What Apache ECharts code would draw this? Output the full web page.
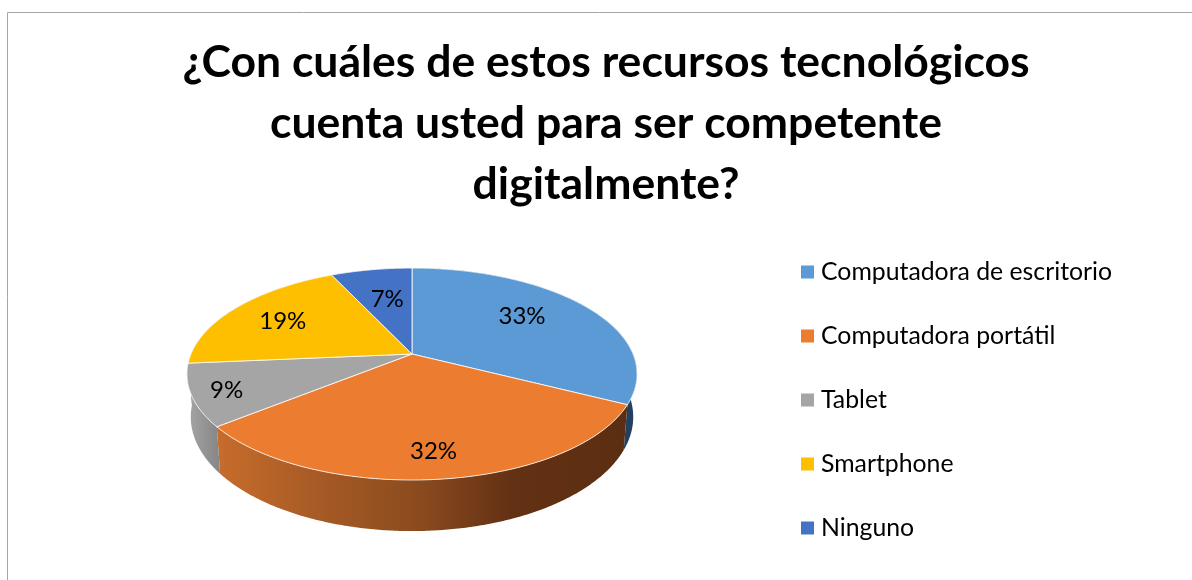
<!DOCTYPE html>
<html><head><meta charset="utf-8">
<style>html,body{margin:0;padding:0;background:#fff}#c{width:1192px;height:580px}</style>
<script src="https://cdn.jsdelivr.net/npm/echarts@6/dist/echarts.min.js"></script>
</head><body><div id="c"></div>
<script>
const titleText = '¿Con cuáles de estos recursos tecnológicos\ncuenta usted para ser competente\ndigitalmente?';
const categories = ['Computadora de escritorio','Computadora portátil','Tablet','Smartphone','Ninguno'];
const shares = [32.5,31.7,9.4,19.4,7.0];
const colors = ['#5B9AD5','#EB7C30','#A5A5A5','#FDBF00','#4472C4'];
const labelReach = [0.68,0.8,0.85,0.72,0.63];
const labelTurn = [-0.11,0,0,0,0.02];

const CX=412, CY=354, R=221, B=102.2, P=0.189, DEPTH=41.4, SHRINK=0.983;
const total = shares.reduce((a,b)=>a+b,0);
function project(theta, r){
  const u=Math.sin(theta)*r, v=-Math.cos(theta)*r, s=1/(1-P*v);
  return [CX+R*u*s, CY+B*v*s, s];
}
function arc(a0,a1){
  const n=Math.max(8,Math.ceil((a1-a0)/0.01)), pts=[];
  for(let k=0;k<=n;k++){ pts.push(project(a0+(a1-a0)*k/n,1)); }
  return pts;
}
function sideFill(i){
  const G=echarts.graphic.LinearGradient;
  if(i===1) return new G(219,0,625,0,[{offset:0,color:'#C66C2C'},{offset:0.25,color:'#A65A25'},{offset:0.5,color:'#8A4A1E'},{offset:0.72,color:'#633114'},{offset:1,color:'#5C2E11'}],true);
  if(i===2) return new G(187,0,223,0,[{offset:0,color:'#A6A6A6'},{offset:1,color:'#828282'}],true);
  if(i===0) return '#234060';
  return '#A6A6A6';
}
function renderSlice(i){
  return function(params,api){
    const val=api.value(0);
    let before=0; for(let k=0;k<i;k++) before+=shares[k];
    const a0=before/total*Math.PI*2, a1=(before+val)/total*Math.PI*2;
    const rim=arc(a0,a1);
    const topPts=[[CX,CY]].concat(rim.map(p=>[p[0],p[1]]));
    const low=rim.map(p=>[CX+(p[0]-CX)*SHRINK,p[1]+DEPTH*p[2]]).reverse();
    const sidePts=rim.map(p=>[p[0],p[1]]).concat(low);
    const mid=(a0+a1)/2+labelTurn[i], lp=project(mid,labelReach[i]);
    return {type:'group',children:[
      {type:'polygon',z2:1,shape:{points:sidePts},style:{fill:sideFill(i),stroke:'none'}},
      {type:'polygon',z2:10,shape:{points:topPts},style:{fill:colors[i],stroke:'#fff',lineWidth:0.8,lineJoin:'round'}},
      {type:'text',z2:20,x:lp[0],y:lp[1]+2,style:{text:Math.round(val/total*100)+'%',font:'24px Lato',fill:'#000',align:'center',verticalAlign:'middle'}}
    ]};
  };
}
const chart=echarts.init(document.getElementById('c'),null,{renderer:'canvas'});
chart.setOption({
  animation:false,
  backgroundColor:'#fff',
  title:{text:titleText,left:601,top:27,textAlign:'center',textStyle:{fontFamily:'Lato',fontWeight:'bold',fontSize:44.5,lineHeight:61,color:'#000'}},
  legend:{show:true,orient:'vertical',left:801,top:257,padding:0,itemWidth:13,itemHeight:13,itemGap:34,itemAlign:'left',icon:'rect',
    data:categories,textStyle:{fontFamily:'Lato',fontSize:24.8,lineHeight:30,color:'#000',padding:[0,0,0,2]}},
  graphic:[{type:'polyline',silent:true,shape:{points:[[7.5,580],[7.5,12.5],[1192,12.5]]},style:{stroke:'#A6A6A6',lineWidth:1,fill:'none'}}],
  series:categories.map((name,i)=>({
    type:'custom',name,coordinateSystem:'none',silent:true,
    itemStyle:{color:colors[i]},
    renderItem:renderSlice(i),
    data:[[shares[i]]]
  }))
});
</script></body></html>
